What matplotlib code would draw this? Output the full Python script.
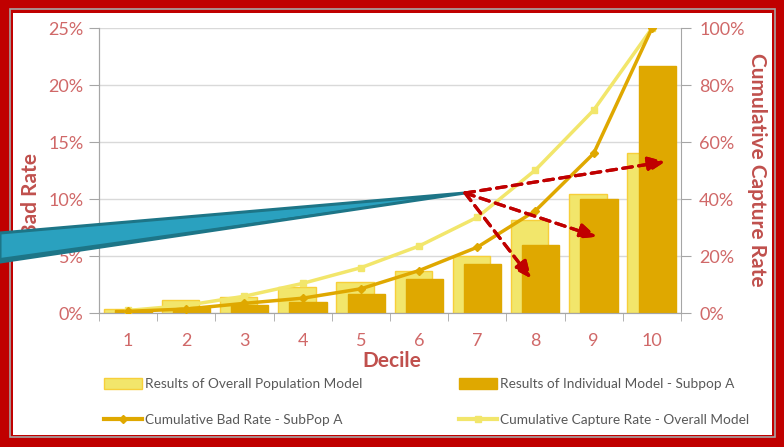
import matplotlib.pyplot as plt
from matplotlib.patches import Rectangle, Polygon, Patch
from matplotlib.lines import Line2D
from matplotlib.ticker import PercentFormatter

# donnees
deciles = [1, 2, 3, 4, 5, 6, 7, 8, 9, 10]
overall_bad = [0.38, 1.17, 1.40, 2.28, 2.72, 3.71, 5.03, 8.18, 10.5, 14.1]
subpop_bad = [0.30, 0.53, 0.76, 1.02, 1.67, 3.04, 4.30, 6.00, 10.0, 21.7]
cum_bad_subpop = [0.7, 1.5, 3.5, 5.3, 8.6, 15.0, 23.2, 36.0, 56.1, 100]
cum_capture_overall = [1.0, 2.8, 6.0, 10.5, 16.0, 23.6, 33.7, 50.3, 71.3, 100]

light = '#F2E66B'
light_edge = '#F7CF3A'
gold = '#DFA800'
red_txt = '#D06868'
red_title = '#C0504D'
W, H = 784, 447

plt.rcParams['font.family'] = ['Lato', 'DejaVu Sans']

fig = plt.figure(figsize=(W/100, H/100), dpi=100)

def fx(px):
    return px/W

def fy(py):
    return 1 - py/H

ax = fig.add_axes([fx(99), fy(313.3), fx(681)-fx(99), fy(28.3)-fy(313.3)])
ax2 = ax.twinx()

# barres
x1 = [d - 0.1 for d in deciles]
x2 = [d + 0.09 for d in deciles]
ax.bar(x1, overall_bad, width=0.64, color=light, edgecolor=light_edge, linewidth=1, zorder=2)
ax.bar(x2, subpop_bad, width=0.64, color=gold, edgecolor=gold, linewidth=1, zorder=3)

ax.set_xlim(0.5, 10.5)
ax.set_ylim(0, 25)
ax.set_yticks([0, 5, 10, 15, 20, 25])
ax.yaxis.set_major_formatter(PercentFormatter(decimals=0))
ax.grid(axis='y', color='#D9D9D9', linewidth=1, zorder=0)
ax.set_axisbelow(True)
ax.set_xticks(deciles)
ax.set_xticks([d + 0.5 for d in range(0, 11)], minor=True)
ax.tick_params(axis='x', which='major', length=0, pad=14, labelsize=13, labelcolor=red_txt)
ax.tick_params(axis='x', which='minor', length=6, color='#A6A6A6')
ax.tick_params(axis='y', length=7, color='#A6A6A6', labelsize=13, labelcolor=red_txt, pad=4)

# courbes cumulees (axe de droite)
ax2.plot(deciles, cum_capture_overall, color=light, linewidth=2.5, marker='s', markersize=5, zorder=4)
ax2.plot(deciles, cum_bad_subpop, color=gold, linewidth=2.5, marker='D', markersize=4, zorder=5)
ax2.set_ylim(0, 100)
ax2.set_yticks([0, 20, 40, 60, 80, 100])
ax2.yaxis.set_major_formatter(PercentFormatter(decimals=0))
ax2.tick_params(axis='y', length=7, color='#A6A6A6', labelsize=13, labelcolor=red_txt, pad=6)

for a in (ax, ax2):
    a.spines['top'].set_visible(False)
    for s in ('left', 'right', 'bottom'):
        a.spines[s].set_color('#A6A6A6')
ax.spines['right'].set_visible(False)

fig.text(fx(392), fy(361), 'Decile', ha='center', va='center', fontsize=15, fontweight='bold', color=red_title)
fig.text(fx(31), fy(195), 'Bad Rate', ha='center', va='center', rotation=90, fontsize=15, fontweight='bold', color=red_title)
fig.text(fx(757), fy(170), 'Cumulative Capture Rate', ha='center', va='center', rotation=270, fontsize=15, fontweight='bold', color=red_title)

# legende (une par colonne pour caler les positions)
leg_kw = dict(loc='center left', frameon=False, fontsize=9.8, labelcolor='#595959',
              handlelength=2.8, handleheight=0.9, handletextpad=0.2, labelspacing=1.75,
              borderaxespad=0, borderpad=0)
col1 = fig.legend([Patch(facecolor=light, edgecolor=light_edge),
                   Line2D([], [], color=gold, linewidth=3, marker='D', markersize=4)],
                  ['Results of Overall Population Model', 'Cumulative Bad Rate - SubPop A'],
                  bbox_to_anchor=(fx(104), fy(402)), **leg_kw)
col2 = fig.legend([Patch(facecolor=gold, edgecolor=gold),
                   Line2D([], [], color=light, linewidth=3, marker='s', markersize=5)],
                  ['Results of Individual Model - Subpop A', 'Cumulative Capture Rate - Overall Model'],
                  bbox_to_anchor=(fx(459), fy(402)), **leg_kw)

# forme bleue (fleche de commentaire)
wedge = Polygon([(fx(0), fy(233)), (fx(465), fy(193)), (fx(0), fy(262))], closed=True,
                transform=fig.transFigure, facecolor='#2AA1BF', edgecolor='#1D7587',
                linewidth=2.2, zorder=30)
fig.add_artist(wedge)
band = Polygon([(fx(0), fy(258)), (fx(465), fy(193)), (fx(0), fy(262))], closed=True,
               transform=fig.transFigure, facecolor='#1D7587', edgecolor='none', zorder=31)
fig.add_artist(band)

# fleches rouges en pointilles
start = (fx(465), fy(193))
for end in [(665, 161.7), (596.7, 236.7), (531, 278.3)]:
    fig.add_artist(plt.annotate('', xy=(fx(end[0]), fy(end[1])), xytext=start,
                                xycoords='figure fraction', textcoords='figure fraction',
                                arrowprops=dict(arrowstyle='-|>,head_length=1.0,head_width=0.45',
                                                linestyle=(0, (3, 2)), color='#C00000',
                                                linewidth=2.3, shrinkA=0, shrinkB=0),
                                zorder=32))

# cadre rouge
fig.add_artist(Rectangle((0, 0), 1, 1, transform=fig.transFigure, fill=False,
                         edgecolor='#C00000', linewidth=18, zorder=20))
fig.add_artist(Rectangle((fx(10), fy(437)), fx(775)-fx(10), fy(9)-fy(437), transform=fig.transFigure,
                         fill=False, edgecolor='#A6A6A6', linewidth=1.2, zorder=20))

fig.savefig('out.png', dpi=100)
